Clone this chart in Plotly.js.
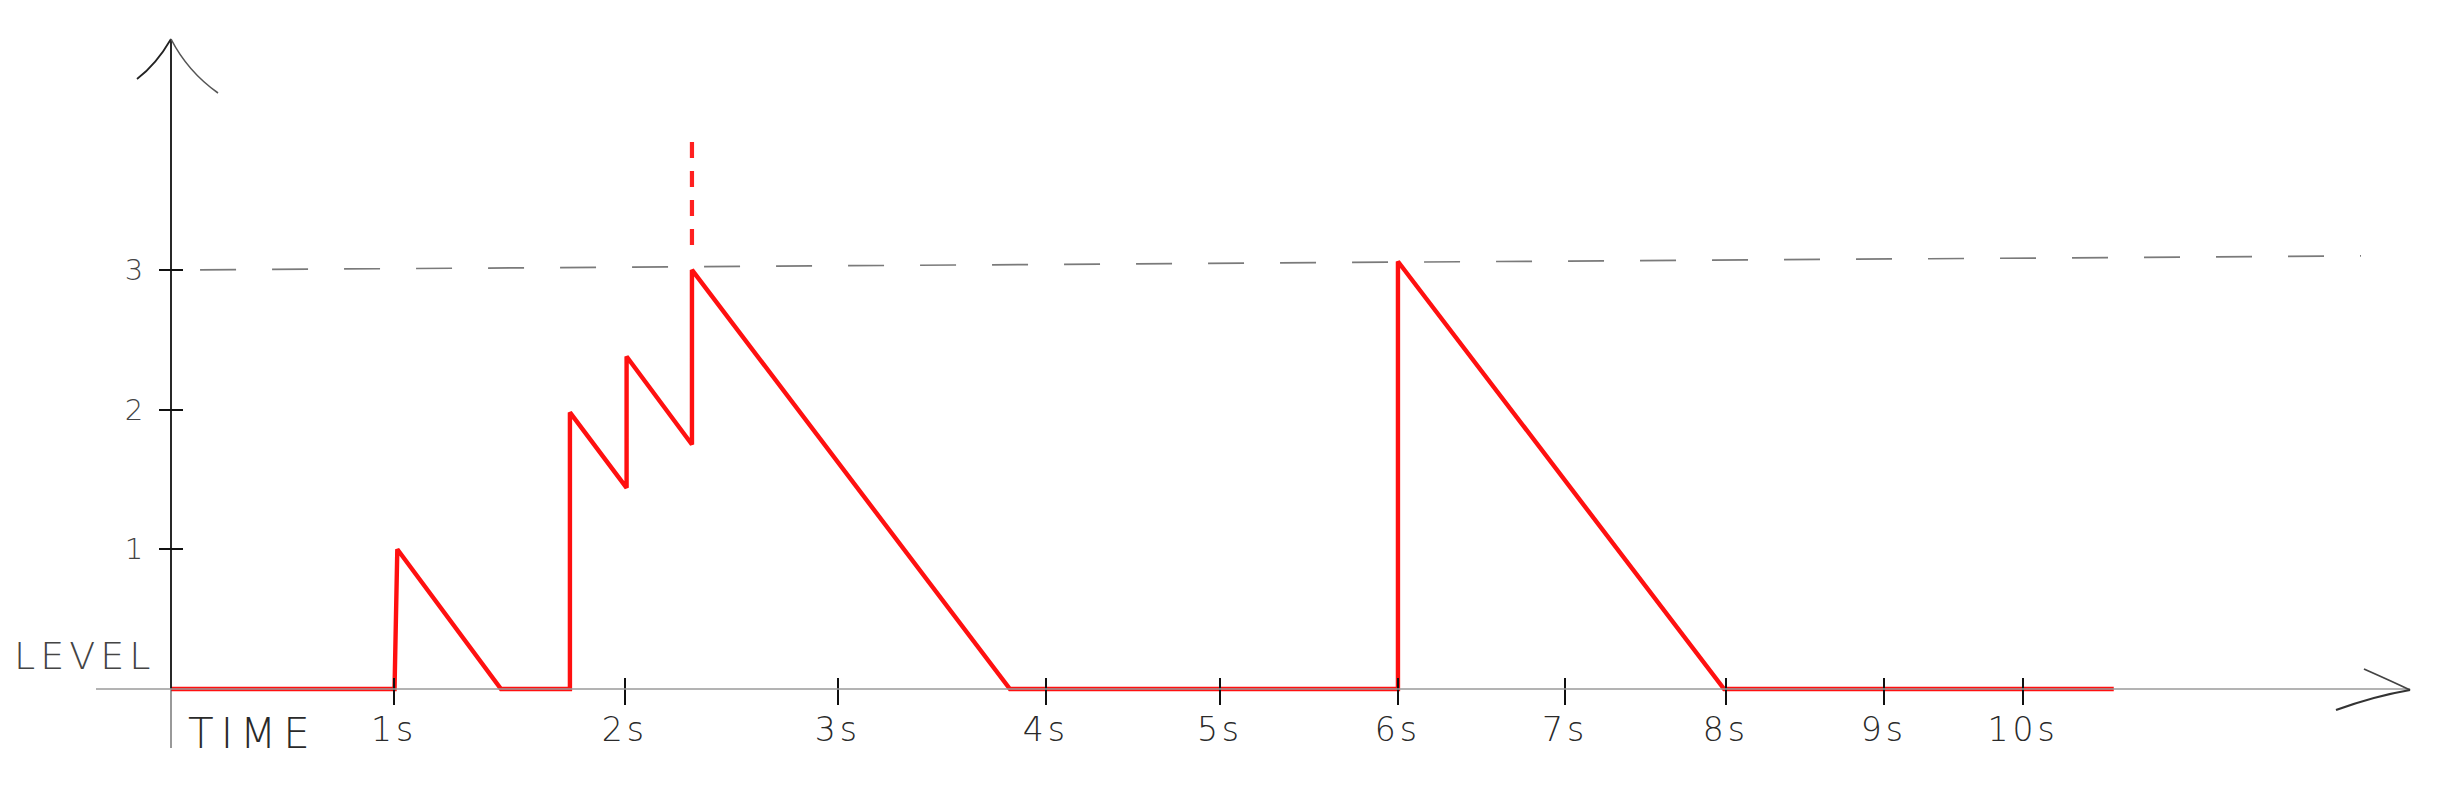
<!DOCTYPE html>
<html>
<head>
<meta charset="utf-8">
<script src="https://cdn.plot.ly/plotly-3.0.1.min.js"></script>
<style>html,body{margin:0;padding:0;background:#fff;}</style>
</head>
<body>
<div id="chart" style="width:2444px;height:788px;"></div>
<script>
// ---- data (x in the sketch's own time units, y in level units) ----
const levelX = [0, 1.207, 1.222, 1.782, 2.154, 2.154, 2.46, 2.46, 2.813, 2.813, 4.53, 6.625, 6.625, 8.386, 10.49];
const levelY = [0, 0, 1.0, 0, 0, 1.98, 1.44, 2.38, 1.75, 3.0, 0, 0, 3.06, 0, 0];

const thresholdX = [0.157, 11.825];
const thresholdY = [3.0, 3.1];

const overflowX = [2.813, 2.813];
const overflowY = [3.916, 3.107];

const xTickPos = [1.204, 2.451, 3.601, 4.724, 5.664, 6.625, 7.527, 8.396, 9.249, 10.0];
const xTickLabels = ['1s', '2s', '3s', '4s', '5s', '6s', '7s', '8s', '9s', '10s'];
const yTickPos = [1, 2, 3];
const yTickLabels = ['1', '2', '3'];

// ---- chart ----
const FONT = 'DejaVu Sans, sans-serif';
const spaced = (t, px) => '<span style="letter-spacing:' + px + 'px">' + t + '</span>';

const traces = [
  {
    x: thresholdX, y: thresholdY, type: 'scatter', mode: 'lines',
    line: {color: '#7a7a7a', width: 1.7, dash: '36px,36px'}, hoverinfo: 'skip'
  },
  {
    x: overflowX, y: overflowY, type: 'scatter', mode: 'lines',
    line: {color: '#ff2020', width: 4.2, dash: '16px,13px'}, hoverinfo: 'skip'
  },
  {
    x: levelX, y: levelY, type: 'scatter', mode: 'lines',
    line: {color: '#ff1010', width: 4.4}, hoverinfo: 'skip'
  }
];

const axisShapes = [
  // vertical (level) axis
  {type: 'line', xref: 'x', yref: 'y', x0: 0, x1: 0, y0: 0, y1: 4.6528, line: {color: '#111', width: 1.8}},
  {type: 'line', xref: 'x', yref: 'y', x0: 0, x1: 0, y0: -0.4223, y1: 0, line: {color: '#555', width: 1.2}},
  // horizontal (time) axis
  {type: 'line', xref: 'x', yref: 'y', x0: -0.405, x1: 12.09, y0: 0, y1: 0, line: {color: '#9a9a9a', width: 1.6}},
  // arrow heads
  {type: 'path', xref: 'x', yref: 'y', path: 'M -0.1836 4.3665 Q -0.08 4.47 0 4.6528', line: {color: '#222', width: 1.8}},
  {type: 'path', xref: 'x', yref: 'y', path: 'M 0 4.6528 Q 0.09 4.42 0.2538 4.2663', line: {color: '#555', width: 1.6}},
  {type: 'path', xref: 'x', yref: 'y', path: 'M 11.841 0.1432 Q 12.0 0.05 12.09 -0.0072', line: {color: '#444', width: 1.8}},
  {type: 'path', xref: 'x', yref: 'y', path: 'M 11.69 -0.1503 Q 11.9 -0.05 12.09 -0.0072', line: {color: '#333', width: 2.2}}
];

const layout = {
  width: 2444, height: 788,
  margin: {l: 10, r: 10, t: 10, b: 10},
  paper_bgcolor: '#fff', plot_bgcolor: '#fff',
  showlegend: false,
  xaxis: {
    range: [-0.8693, 12.2192], anchor: 'free', position: 0.13151,
    showgrid: false, zeroline: false, showline: false,
    ticks: 'outside', ticklen: 27, tickwidth: 1.8, tickcolor: '#111',
    tickmode: 'array', tickvals: xTickPos, ticktext: xTickLabels.map(t => spaced(t, 4)),
    tickfont: {family: FONT, size: 33, color: '#2a2a2a', weight: 200},
    ticklabelstandoff: -4, fixedrange: true
  },
  yaxis: {
    range: [-0.6371, 4.8604], anchor: 'free', position: 0.07137,
    showgrid: false, zeroline: false, showline: false,
    ticks: 'outside', ticklen: 24, tickwidth: 2, tickcolor: '#111',
    tickmode: 'array', tickvals: yTickPos, ticktext: yTickLabels,
    tickfont: {family: FONT, size: 29, color: '#444', weight: 200},
    ticklabelstandoff: 10, fixedrange: true
  },
  shapes: axisShapes,
  annotations: [
    {xref: 'x', yref: 'y', x: -0.465, y: 0.2362, text: spaced('LEVEL', 5), showarrow: false,
     font: {family: FONT, size: 38, color: '#444', weight: 200}},
    {xref: 'x', yref: 'y', x: 0.44, y: -0.315, text: spaced('TIME', 7), showarrow: false,
     font: {family: FONT, size: 42, color: '#2a2a2a', weight: 200}}
  ]
};

Plotly.newPlot('chart', traces, layout, {staticPlot: true, displayModeBar: false});
</script>
</body>
</html>
